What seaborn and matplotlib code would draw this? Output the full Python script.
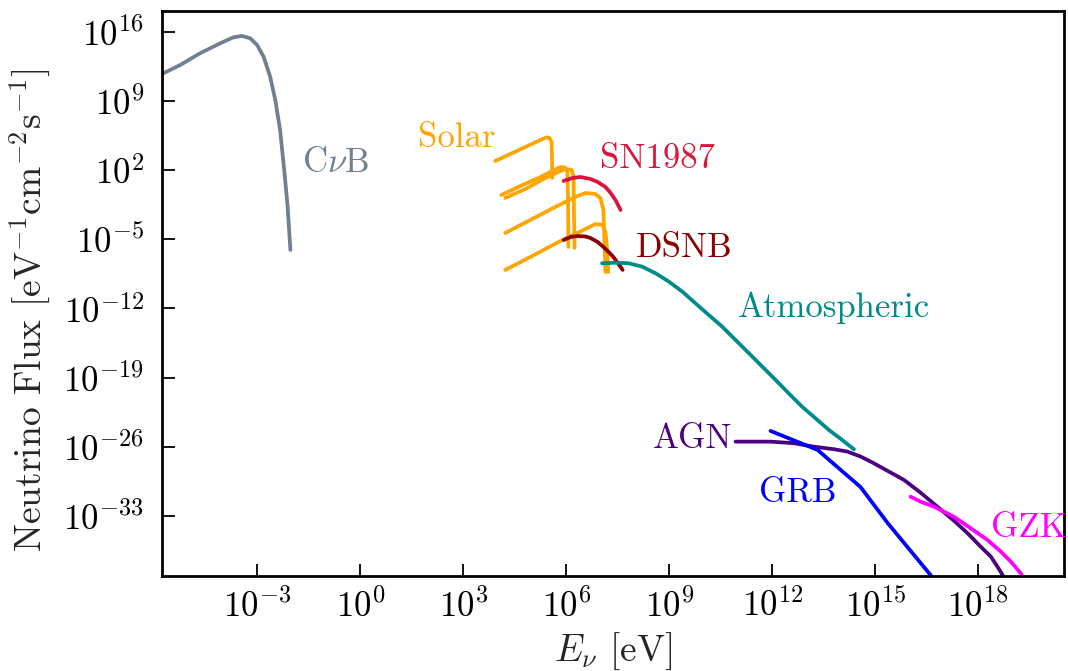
import numpy as np
import matplotlib
matplotlib.use("Agg")
import matplotlib.pyplot as plt
import matplotlib.ticker as mticker
import seaborn as sns

# curve data, stored as log10(E / eV) and log10(flux)
cnub_logE = [-5.74, -5.25, -4.67, -4.08, -3.70, -3.45, -3.21, -3.01, -2.82, -2.63, -2.48, -2.34, -2.22, -2.12, -2.04]
cnub_logF = [11.79, 12.63, 13.82, 14.83, 15.43, 15.57, 15.33, 14.65, 13.47, 11.45, 9.09, 6.06, 2.01, -1.70, -6.08]

solar1_logE = [3.93, 4.37, 4.81, 5.25, 5.42, 5.51, 5.57, 5.58, 5.59]
solar1_logF = [2.92, 3.63, 4.34, 5.05, 5.30, 5.25, 4.85, 3.53, 1.20]
solar2_logE = [4.11, 4.66, 5.25, 5.59, 5.83, 5.97, 6.03, 6.05, 6.06]
solar2_logF = [-0.52, 0.39, 1.30, 1.91, 2.31, 2.26, 1.81, -1.02, -5.78]
solar3_logE = [4.22, 4.81, 5.39, 5.83, 6.00, 6.15, 6.21, 6.22, 6.24]
solar3_logF = [-0.82, 0.09, 1.20, 1.91, 2.11, 2.01, 1.40, -2.04, -5.88]
solar4_logE = [4.22, 4.95, 5.68, 6.26, 6.56, 6.85, 6.99, 7.08, 7.11, 7.14]
solar4_logF = [-4.36, -3.05, -1.73, -0.72, -0.32, -0.42, -0.82, -2.04, -5.07, -8.31]
solar5_logE = [4.22, 4.95, 5.83, 6.56, 6.85, 7.05, 7.14, 7.19, 7.22]
solar5_logF = [-8.10, -6.79, -5.17, -3.96, -3.45, -3.55, -4.26, -6.08, -8.31]

sn_logE = [5.92, 6.18, 6.41, 6.70, 6.91, 7.14, 7.29, 7.43, 7.58]
sn_logF = [0.90, 1.20, 1.30, 1.10, 0.80, 0.29, -0.32, -1.02, -2.04]

dsnb_logE = [5.92, 6.12, 6.32, 6.56, 6.70, 6.91, 7.08, 7.23, 7.37, 7.52, 7.64]
dsnb_logF = [-5.07, -4.77, -4.67, -4.72, -4.87, -5.27, -5.78, -6.28, -6.79, -7.50, -8.10]

atm_logE = [7.04, 7.43, 7.82, 8.21, 8.60, 8.99, 9.38, 9.76, 10.15, 10.54, 10.93, 11.32,
            11.71, 12.10, 12.48, 12.87, 13.26, 13.65, 14.04, 14.38]
atm_logF = [-7.43, -7.37, -7.43, -7.77, -8.44, -9.29, -10.30, -11.47, -12.66, -13.84, -15.19, -16.53,
            -17.89, -19.24, -20.59, -21.94, -23.11, -24.29, -25.31, -26.25]

agn_logE = [10.93, 11.95, 12.63, 13.21, 13.80, 14.19, 14.58, 14.96, 15.35, 15.84, 16.32, 16.81,
            17.29, 17.69, 18.07, 18.37, 18.56, 18.71, 18.77]
agn_logF = [-25.47, -25.47, -25.63, -25.98, -26.24, -26.48, -26.99, -27.66, -28.41, -29.35, -30.63, -32.05,
            -33.46, -34.74, -36.09, -37.11, -38.12, -38.96, -39.47]

grb_logE = [11.95, 13.32, 14.57, 15.36, 16.61, 16.70]
grb_logF = [-24.39, -26.31, -30.06, -33.70, -38.96, -39.46]

gzk_logE = [16.03, 16.32, 16.71, 17.29, 17.78, 18.27, 18.66, 18.95, 19.24, 19.33]
gzk_logF = [-31.04, -31.54, -32.05, -33.06, -34.23, -35.42, -36.60, -37.61, -38.79, -39.36]

x_ticks = [-3, 0, 3, 6, 9, 12, 15, 18]
y_ticks = [-33, -26, -19, -12, -5, 2, 9, 16]

sns.set_style("ticks")
plt.rcParams["font.family"] = "serif"
plt.rcParams["font.serif"] = ["cmr10", "DejaVu Serif"]
plt.rcParams["mathtext.fontset"] = "cm"
plt.rcParams["axes.formatter.use_mathtext"] = True

fig, ax = plt.subplots(figsize=(10.68, 6.71), dpi=100)
fig.subplots_adjust(left=0.1517, right=0.9963, bottom=0.1416, top=0.9836)
ax.set_xscale("log")
ax.set_yscale("log")

curves = [
    (cnub_logE, cnub_logF, "slategray"),
    (solar1_logE, solar1_logF, "orange"),
    (solar2_logE, solar2_logF, "orange"),
    (solar3_logE, solar3_logF, "orange"),
    (solar4_logE, solar4_logF, "orange"),
    (solar5_logE, solar5_logF, "orange"),
    (sn_logE, sn_logF, "crimson"),
    (dsnb_logE, dsnb_logF, "darkred"),
    (atm_logE, atm_logF, "darkcyan"),
    (agn_logE, agn_logF, "indigo"),
    (grb_logE, grb_logF, "blue"),
    (gzk_logE, gzk_logF, "magenta"),
]
for le, lf, c in curves:
    sns.lineplot(x=10.0 ** np.array(le), y=10.0 ** np.array(lf), estimator=None,
                 sort=False, color=c, lw=2.7, ax=ax)

# labels next to the curves (left edge, baseline)
labels = [
    ("C$\\nu$B", -1.69, 1.81, "slategray"),
    ("Solar", 1.69, 4.34, "orange"),
    ("SN1987", 6.99, 2.21, "crimson"),
    ("DSNB", 8.01, -6.79, "darkred"),
    ("Atmospheric", 10.99, -12.86, "darkcyan"),
    ("AGN", 8.51, -26.13, "indigo"),
    ("GRB", 11.60, -31.57, "blue"),
    ("GZK", 18.36, -35.11, "magenta"),
]
for txt, lx, ly, c in labels:
    ax.text(10.0 ** lx, 10.0 ** ly, txt, color=c, fontsize=25, ha="left", va="baseline")

ax.set_xlim(10.0 ** -5.78, 10.0 ** 20.5)
ax.set_ylim(10.0 ** -39.06, 10.0 ** 18.09)
ax.xaxis.set_major_locator(mticker.FixedLocator([10.0 ** t for t in x_ticks]))
ax.yaxis.set_major_locator(mticker.FixedLocator([10.0 ** t for t in y_ticks]))
ax.xaxis.set_major_formatter(mticker.LogFormatterSciNotation())
ax.yaxis.set_major_formatter(mticker.LogFormatterSciNotation())
ax.xaxis.set_minor_locator(mticker.NullLocator())
ax.yaxis.set_minor_locator(mticker.NullLocator())
ax.tick_params(direction="in", length=9, width=1.3, labelsize=25, colors="black")
ax.tick_params(axis="x", pad=9)
ax.tick_params(axis="y", pad=13)

for s in ax.spines.values():
    s.set_linewidth(2.0)
    s.set_color("black")

ax.set_xlabel(r"$E_\nu$ [eV]", fontsize=27)
ax.set_ylabel(r"Neutrino Flux [eV$^{-1}$cm$^{-2}$s$^{-1}$]", fontsize=27)
ax.xaxis.set_label_coords(0.5, -0.097)
ax.yaxis.set_label_coords(-0.122, 0.47)

fig.savefig("out.png", dpi=100)
